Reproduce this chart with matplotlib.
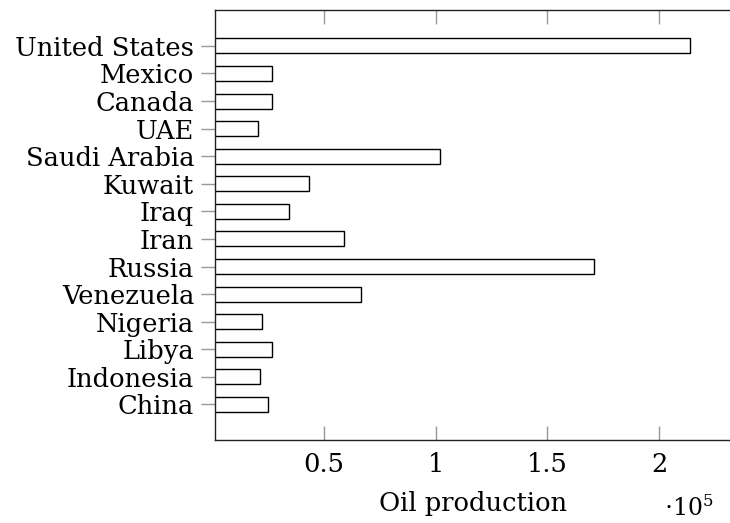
import matplotlib
matplotlib.use("Agg")
import matplotlib.pyplot as plt

countries = ["United States", "Mexico", "Canada", "UAE", "Saudi Arabia", "Kuwait",
             "Iraq", "Iran", "Russia", "Venezuela", "Nigeria", "Libya", "Indonesia", "China"]
production = [213600, 26600, 26600, 20600, 102100, 43200,
              34500, 59100, 170800, 66400, 22100, 26600, 21600, 25100]
xtick_values = [0.5, 1, 1.5, 2]
xtick_labels = ["0.5", "1", "1.5", "2"]
scale = 1e5

plt.rcParams['font.family'] = ['DejaVu Serif']
plt.rcParams['mathtext.fontset'] = 'dejavuserif'

fig = plt.figure(figsize=(7.3, 5.23), dpi=100)
ax = fig.add_axes([215/730, 83/523, 516/730, 430/523])

n = len(countries)
ypos = list(range(n - 1, -1, -1))
vals = [v / scale for v in production]
ax.barh(ypos, vals, height=0.544, left=0, color='white', edgecolor='black', linewidth=1.0)

ax.set_xlim(0.0125, 2.321)
ax.set_ylim(-1.29, n - 1 + 1.30)
ax.set_yticks(ypos)
ax.set_yticklabels(countries, fontsize=18.5)
ax.set_xticks(xtick_values)
ax.set_xticklabels(xtick_labels, fontsize=18.5)

ax.tick_params(axis='x', direction='in', length=10, width=1, color='#999999',
               top=True, bottom=True, pad=9)
ax.tick_params(axis='y', direction='out', length=10, width=1, color='#999999',
               left=True, right=False, pad=5)
for s in ['left', 'bottom', 'top']:
    ax.spines[s].set_linewidth(1.0)
    ax.spines[s].set_color('#222222')
ax.spines['right'].set_visible(False)

ax.set_xlabel("Oil production", fontsize=18.5, labelpad=10)
ax.text(0.919, -0.177, r"$\cdot 10^{5}$", transform=ax.transAxes, fontsize=17,
        ha='center', va='baseline')

fig.savefig("out.png", dpi=100)
